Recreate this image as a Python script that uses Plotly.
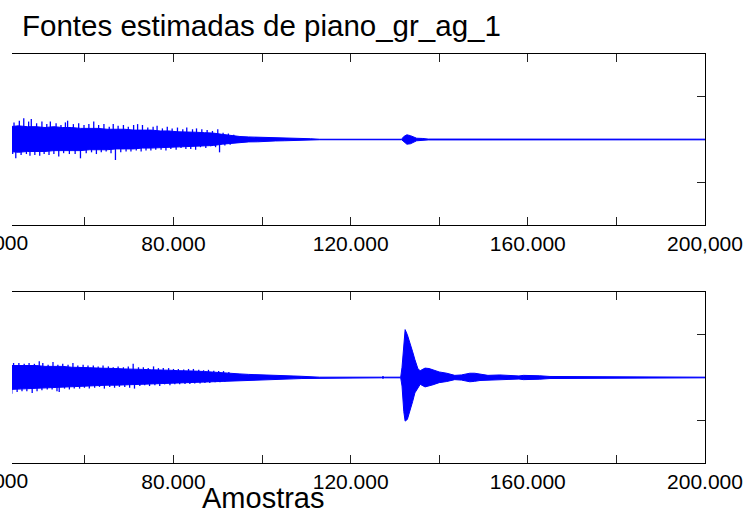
import plotly.graph_objects as go

# ---------------- data ----------------
title_text = "Fontes estimadas de piano_gr_ag_1"
xlabel_text = "Amostras"

tick_vals = [40000, 60000, 80000, 100000, 120000, 140000, 160000, 180000, 200000]
tick_text_top = ["40.000", "", "80.000", "", "120.000", "", "160.000", "", "200,000"]
tick_text_bottom = ["40.000", "", "80.000", "", "120.000", "", "160.000", "", "200.000"]

# ---- source 1 (top panel): dense core envelope ----
top_pos = [43000, 45000, 47000, 49000, 51000, 53000, 55000, 57000, 59000, 61000,
           63000, 65000, 67000, 69000, 71000, 73000, 75000, 77000, 79000, 81000,
           83000, 85000, 87000, 89000, 91000, 93000, 95000, 97000,
           99000, 101000, 103000, 105000, 107000, 109000, 111000, 113000,
           131500, 132000, 132700, 133500, 134300, 134900, 136300, 137500, 200000]
top_upper = [0.15, 0.16, 0.15, 0.15, 0.14, 0.15, 0.14, 0.14, 0.13, 0.13,
             0.13, 0.12, 0.12, 0.12, 0.11, 0.11, 0.11, 0.10, 0.10, 0.09,
             0.09, 0.085, 0.08, 0.075, 0.06, 0.045, 0.035, 0.03,
             0.028, 0.025, 0.018, 0.016, 0.014, 0.012, 0.009, 0.003,
             0.003, 0.035, 0.055, 0.045, 0.03, 0.015, 0.012, 0.005, 0.004]
top_lower = [0.14, 0.15, 0.14, 0.14, 0.14, 0.13, 0.13, 0.13, 0.13, 0.12,
             0.12, 0.12, 0.11, 0.11, 0.11, 0.10, 0.10, 0.10, 0.09, 0.09,
             0.085, 0.08, 0.075, 0.07, 0.055, 0.045, 0.035, 0.028,
             0.027, 0.024, 0.017, 0.015, 0.013, 0.011, 0.008, 0.003,
             0.003, 0.03, 0.055, 0.05, 0.03, 0.015, 0.01, 0.005, 0.004]
# ---- source 1: individual peaks above / below the core ----
top_peak_up_pos = [44000, 45200, 46200, 47300, 47900, 49100, 50300, 51400, 52200, 53500,
                   54600, 55600, 56100, 57400, 58600, 59800, 60900, 62000, 63100, 64300,
                   65500, 66400, 67500, 68700, 69800, 71000, 71900, 73000, 74200, 75400,
                   76300, 77500, 78600, 79700, 80900, 82100, 83000, 84300, 85200, 86400,
                   87600, 88800, 90000, 91200, 92400, 93600]
top_peak_up = [0.20, 0.22, 0.25, 0.21, 0.24, 0.19, 0.21, 0.18, 0.21, 0.19,
               0.17, 0.20, 0.22, 0.18, 0.19, 0.17, 0.18, 0.21, 0.17, 0.18,
               0.15, 0.18, 0.16, 0.17, 0.15, 0.17, 0.18, 0.17, 0.14, 0.15,
               0.16, 0.13, 0.15, 0.13, 0.14, 0.12, 0.14, 0.12, 0.13, 0.12,
               0.11, 0.10, 0.12, 0.08, 0.07, 0.055]
top_peak_dn_pos = [43700, 44400, 45600, 46800, 47600, 48700, 49800, 50800, 51900, 53000,
                   54100, 55200, 56500, 57800, 59000, 60300, 61500, 62600, 63700, 64800,
                   65900, 66900, 68100, 69300, 70400, 71600, 72700, 73800, 74900, 76000,
                   77200, 78300, 79400, 80600, 81700, 82800, 83900, 85000, 86100, 87300,
                   88400, 89500, 90400, 91600, 92800]
top_peak_dn = [0.17, 0.22, 0.18, 0.17, 0.19, 0.18, 0.19, 0.17, 0.18, 0.17,
               0.20, 0.16, 0.17, 0.17, 0.22, 0.16, 0.15, 0.17, 0.15, 0.14,
               0.16, 0.24, 0.15, 0.14, 0.14, 0.13, 0.14, 0.13, 0.13, 0.12,
               0.12, 0.13, 0.11, 0.12, 0.10, 0.11, 0.11, 0.12, 0.09, 0.10,
               0.08, 0.09, 0.15, 0.07, 0.06]

# ---- source 2 (bottom panel): dense core envelope ----
bot_pos = [43000, 45000, 47000, 49000, 51000, 53000, 55000, 57000, 59000, 61000,
           63000, 65000, 67000, 69000, 71000, 73000, 75000, 77000, 79000, 81000,
           83000, 85000, 87000, 89000, 91000, 93000, 95000, 97000,
           99000, 101000, 103000, 105000, 107000, 109000, 111000, 113000,
           127000, 127300, 127600,
           131300, 131600, 132000, 132300, 132800, 133400, 134000, 134500, 135200, 135700,
           136800, 137700, 138600, 140000, 141700, 143500, 145000, 146900, 148000, 149200,
           151000, 153700, 156000, 158000, 159000, 161000, 162700, 165000, 168000, 169000,
           200000]
bot_upper = [0.14, 0.14, 0.14, 0.14, 0.13, 0.13, 0.13, 0.12, 0.12, 0.115,
             0.11, 0.11, 0.105, 0.10, 0.10, 0.095, 0.09, 0.09, 0.085, 0.08,
             0.08, 0.075, 0.07, 0.065, 0.06, 0.05, 0.042, 0.036,
             0.034, 0.03, 0.025, 0.022, 0.018, 0.014, 0.010, 0.004,
             0.004, 0.012, 0.004,
             0.004, 0.12, 0.45, 0.56, 0.50, 0.41, 0.30, 0.21, 0.10, 0.08,
             0.11, 0.105, 0.09, 0.065, 0.05, 0.025, 0.03, 0.05, 0.05, 0.04,
             0.025, 0.03, 0.02, 0.018, 0.025, 0.025, 0.02, 0.012, 0.012, 0.004,
             0.004]
bot_lower = [0.14, 0.14, 0.13, 0.13, 0.12, 0.12, 0.11, 0.11, 0.10, 0.10,
             0.095, 0.09, 0.09, 0.085, 0.085, 0.08, 0.075, 0.07, 0.07, 0.065,
             0.06, 0.058, 0.055, 0.05, 0.045, 0.04, 0.035, 0.03,
             0.03, 0.027, 0.022, 0.02, 0.016, 0.012, 0.009, 0.004,
             0.004, 0.01, 0.004,
             0.004, 0.10, 0.40, 0.51, 0.49, 0.38, 0.28, 0.18, 0.12, 0.08,
             0.11, 0.10, 0.085, 0.06, 0.047, 0.025, 0.03, 0.05, 0.045, 0.035,
             0.025, 0.025, 0.02, 0.018, 0.025, 0.025, 0.02, 0.012, 0.012, 0.004,
             0.004]
# ---- source 2: individual peaks above / below the core ----
bot_peak_up_pos = [43900, 45100, 46300, 47400, 48600, 49700, 50500, 51700, 52800, 53900,
                   55000, 56200, 57300, 58400, 59600, 60700, 61900, 63000, 64100, 65300,
                   66400, 67500, 68700, 69800, 70900, 72100, 73200, 74300, 75500, 76600,
                   77700, 78900, 80000, 81100, 82300, 83400, 84500, 85700, 86800, 87900,
                   89100, 90200, 91300, 92500]
bot_peak_up = [0.17, 0.17, 0.16, 0.17, 0.16, 0.19, 0.17, 0.15, 0.18, 0.15,
               0.16, 0.15, 0.17, 0.14, 0.15, 0.14, 0.14, 0.13, 0.14, 0.13,
               0.12, 0.13, 0.12, 0.13, 0.16, 0.12, 0.12, 0.11, 0.13, 0.11,
               0.11, 0.11, 0.10, 0.10, 0.095, 0.10, 0.10, 0.09, 0.085, 0.09,
               0.08, 0.075, 0.075, 0.065]
bot_peak_dn_pos = [43500, 44700, 45800, 46900, 48100, 49200, 50300, 51500, 52600, 53700,
                   54200, 55400, 56500, 57600, 58800, 59900, 61000, 62200, 63300, 64400,
                   65600, 66700, 67800, 69000, 70100, 71200, 72400, 73500, 74600, 75800,
                   76900, 78000, 79200, 80300, 81400, 82600, 83700, 84800, 86000, 87100,
                   88200, 89400, 90500, 91600]
bot_peak_dn = [0.19, 0.17, 0.16, 0.16, 0.18, 0.16, 0.15, 0.14, 0.14, 0.16,
               0.17, 0.13, 0.14, 0.13, 0.13, 0.12, 0.13, 0.12, 0.11, 0.13,
               0.11, 0.12, 0.11, 0.11, 0.12, 0.13, 0.10, 0.09, 0.10, 0.09,
               0.10, 0.08, 0.09, 0.08, 0.08, 0.075, 0.075, 0.07, 0.07, 0.065,
               0.065, 0.055, 0.055, 0.05]

x_range = [43545, 200000]
y_range = [-1, 1]
y_ticks = [-0.5, 0.5]

# ---------------- figure ----------------
BLUE = "#0000FF"
FONT = "Liberation Sans, Arial, sans-serif"


def band(pos, up, lo, xa, ya):
    xs = list(pos) + list(pos)[::-1]
    ys = list(up) + [-v for v in lo][::-1]
    return go.Scatter(x=xs, y=ys, xaxis=xa, yaxis=ya, mode="lines",
                      fill="toself", fillcolor=BLUE,
                      line=dict(color=BLUE, width=1), hoverinfo="skip",
                      showlegend=False)


def peaks(up_pos, up, dn_pos, dn, xa, ya):
    xs, ys = [], []
    for p, a in zip(up_pos, up):
        xs += [p, p, None]
        ys += [0, a, None]
    for p, a in zip(dn_pos, dn):
        xs += [p, p, None]
        ys += [0, -a, None]
    return go.Scatter(x=xs, y=ys, xaxis=xa, yaxis=ya, mode="lines",
                      line=dict(color=BLUE, width=1.3), hoverinfo="skip",
                      showlegend=False, connectgaps=False)


fig = go.Figure()
fig.add_trace(band(top_pos, top_upper, top_lower, "x2", "y2"))
fig.add_trace(peaks(top_peak_up_pos, top_peak_up, top_peak_dn_pos, top_peak_dn, "x2", "y2"))
fig.add_trace(band(bot_pos, bot_upper, bot_lower, "x", "y"))
fig.add_trace(peaks(bot_peak_up_pos, bot_peak_up, bot_peak_dn_pos, bot_peak_dn, "x", "y"))

W, H = 747, 515
L, R, T, B = 12, 42, 54, 52
plot_h = H - T - B  # 409
top_dom = [(463 - 225) / plot_h, 1.0]
bot_dom = [0.0, (463 - 292) / plot_h]


def xaxis(ticktext, anchor):
    return dict(range=x_range, tickvals=tick_vals, ticktext=ticktext,
                ticks="inside", ticklen=8, tickwidth=1, tickcolor="#222",
                showline=True, linecolor="black", linewidth=1, mirror="ticks",
                showgrid=False, zeroline=False, anchor=anchor, automargin=False,
                tickfont=dict(family=FONT, size=21, color="black"),
                ticklabelstandoff=0)


def yaxis(domain, anchor):
    return dict(range=y_range, domain=domain, tickvals=y_ticks, side="right",
                ticks="inside", ticklen=8, tickwidth=1, tickcolor="#222",
                showline=True, linecolor="black", linewidth=1, mirror=False,
                showticklabels=False, showgrid=False, zeroline=False,
                anchor=anchor, automargin=False)


pw = W - L - R


def px_x(px):
    return (px - L) / pw


def px_y(py):
    return (H - B - py) / plot_h


fig.update_layout(
    width=W, height=H,
    margin=dict(l=L, r=R, t=T, b=B, autoexpand=False),
    paper_bgcolor="white", plot_bgcolor="white",
    xaxis=xaxis(tick_text_bottom, "y"),
    yaxis=yaxis(bot_dom, "x"),
    xaxis2=xaxis(tick_text_top, "y2"),
    yaxis2=yaxis(top_dom, "x2"),
    font=dict(family=FONT, color="black"),
    annotations=[
        dict(text=title_text, xref="paper", yref="paper", x=px_x(261), y=px_y(26),
             xanchor="center", yanchor="middle", showarrow=False,
             font=dict(family=FONT, size=29.5, color="black")),
        dict(text=xlabel_text, xref="paper", yref="paper", x=px_x(263), y=px_y(498),
             xanchor="center", yanchor="middle", showarrow=False,
             font=dict(family=FONT, size=29, color="black")),
        dict(text=tick_text_top[0], xref="paper", yref="paper", x=px_x(-3.7), y=px_y(242),
             xanchor="center", yanchor="middle", showarrow=False,
             font=dict(family=FONT, size=21, color="black")),
        dict(text=tick_text_bottom[0], xref="paper", yref="paper", x=px_x(-3.7), y=px_y(480),
             xanchor="center", yanchor="middle", showarrow=False,
             font=dict(family=FONT, size=21, color="black")),
    ],
)

fig.write_html("out.html")
